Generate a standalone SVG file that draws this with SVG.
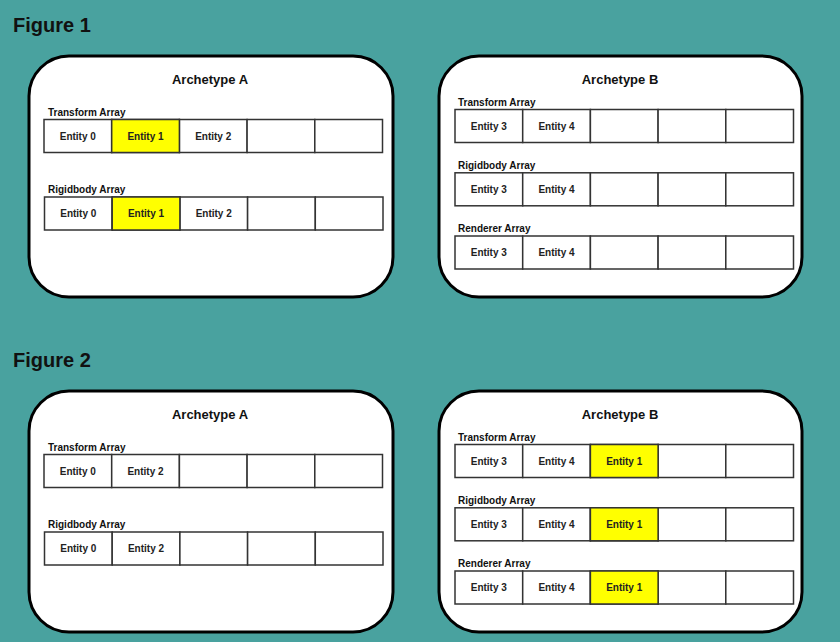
<svg xmlns="http://www.w3.org/2000/svg" width="840" height="642" viewBox="0 0 840 642">
<style>
.bg{fill:#49A29F}
.panel{fill:#fff;stroke:#000;stroke-width:3}
.cell{fill:#fff;stroke:#333;stroke-width:1.5}
.hl{fill:#ffff00}
.fig{font-family:"Liberation Sans",Arial,sans-serif;font-weight:bold;font-size:20px;fill:#111}
.title{font-family:"Liberation Sans",Arial,sans-serif;font-weight:bold;font-size:13px;fill:#111;text-anchor:middle}
.lbl{font-family:"Liberation Sans",Arial,sans-serif;font-weight:bold;font-size:10px;fill:#111}
.ent{font-family:"Liberation Sans",Arial,sans-serif;font-weight:bold;font-size:10px;fill:#222;text-anchor:middle}
</style>
<defs>
<g id="row5">
<rect class="cell" x="0" y="0" width="67.7" height="33"/>
<rect class="cell" x="67.7" y="0" width="67.7" height="33"/>
<rect class="cell" x="135.4" y="0" width="67.7" height="33"/>
<rect class="cell" x="203.1" y="0" width="67.7" height="33"/>
<rect class="cell" x="270.8" y="0" width="67.7" height="33"/>
</g>
</defs>
<rect class="bg" x="0" y="0" width="840" height="642"/>
<text class="fig" x="13" y="32">Figure 1</text>
<text class="fig" x="13" y="367">Figure 2</text>

<g id="fig1-archetype-a">
<rect class="panel" x="29" y="56" width="364" height="241" rx="40" ry="40"/>
<text class="title" x="210" y="83.5">Archetype A</text>
<g id="fig1-a-transform">
<text class="lbl" x="48" y="115.5">Transform Array</text>
<use href="#row5" x="44" y="119.5"/>
<rect class="cell hl" x="111.7" y="119.5" width="67.7" height="33"/>
<text class="ent" x="77.8" y="139.7">Entity 0</text>
<text class="ent" x="145.5" y="139.7">Entity 1</text>
<text class="ent" x="213.2" y="139.7">Entity 2</text>
</g>
<g id="fig1-a-rigidbody">
<text class="lbl" x="48" y="193">Rigidbody Array</text>
<use href="#row5" x="44.5" y="197"/>
<rect class="cell hl" x="112.2" y="197" width="67.7" height="33"/>
<text class="ent" x="78.3" y="217.2">Entity 0</text>
<text class="ent" x="146" y="217.2">Entity 1</text>
<text class="ent" x="213.7" y="217.2">Entity 2</text>
</g>
</g>

<g id="fig1-archetype-b">
<rect class="panel" x="439" y="56" width="363" height="241" rx="40" ry="40"/>
<text class="title" x="620" y="83.5">Archetype B</text>
<g id="fig1-b-transform">
<text class="lbl" x="458" y="105.5">Transform Array</text>
<use href="#row5" x="455" y="109.5"/>
<text class="ent" x="488.8" y="129.7">Entity 3</text>
<text class="ent" x="556.5" y="129.7">Entity 4</text>
</g>
<g id="fig1-b-rigidbody">
<text class="lbl" x="458" y="168.5">Rigidbody Array</text>
<use href="#row5" x="455" y="172.8"/>
<text class="ent" x="488.8" y="193">Entity 3</text>
<text class="ent" x="556.5" y="193">Entity 4</text>
</g>
<g id="fig1-b-renderer">
<text class="lbl" x="458" y="232">Renderer Array</text>
<use href="#row5" x="455" y="236"/>
<text class="ent" x="488.8" y="256.2">Entity 3</text>
<text class="ent" x="556.5" y="256.2">Entity 4</text>
</g>
</g>

<g id="fig2-archetype-a">
<rect class="panel" x="29" y="391" width="364" height="241" rx="40" ry="40"/>
<text class="title" x="210" y="418.5">Archetype A</text>
<g id="fig2-a-transform">
<text class="lbl" x="48" y="450.5">Transform Array</text>
<use href="#row5" x="44" y="454.5"/>
<text class="ent" x="77.8" y="474.7">Entity 0</text>
<text class="ent" x="145.5" y="474.7">Entity 2</text>
</g>
<g id="fig2-a-rigidbody">
<text class="lbl" x="48" y="528">Rigidbody Array</text>
<use href="#row5" x="44.5" y="532"/>
<text class="ent" x="78.3" y="552.2">Entity 0</text>
<text class="ent" x="146" y="552.2">Entity 2</text>
</g>
</g>

<g id="fig2-archetype-b">
<rect class="panel" x="439" y="391" width="363" height="241" rx="40" ry="40"/>
<text class="title" x="620" y="418.5">Archetype B</text>
<g id="fig2-b-transform">
<text class="lbl" x="458" y="440.5">Transform Array</text>
<use href="#row5" x="455" y="444.5"/>
<rect class="cell hl" x="590.4" y="444.5" width="67.7" height="33"/>
<text class="ent" x="488.8" y="464.7">Entity 3</text>
<text class="ent" x="556.5" y="464.7">Entity 4</text>
<text class="ent" x="624.2" y="464.7">Entity 1</text>
</g>
<g id="fig2-b-rigidbody">
<text class="lbl" x="458" y="503.5">Rigidbody Array</text>
<use href="#row5" x="455" y="507.8"/>
<rect class="cell hl" x="590.4" y="507.8" width="67.7" height="33"/>
<text class="ent" x="488.8" y="528">Entity 3</text>
<text class="ent" x="556.5" y="528">Entity 4</text>
<text class="ent" x="624.2" y="528">Entity 1</text>
</g>
<g id="fig2-b-renderer">
<text class="lbl" x="458" y="567">Renderer Array</text>
<use href="#row5" x="455" y="571"/>
<rect class="cell hl" x="590.4" y="571" width="67.7" height="33"/>
<text class="ent" x="488.8" y="591.2">Entity 3</text>
<text class="ent" x="556.5" y="591.2">Entity 4</text>
<text class="ent" x="624.2" y="591.2">Entity 1</text>
</g>
</g>
<g id="connectors"/>
</svg>
